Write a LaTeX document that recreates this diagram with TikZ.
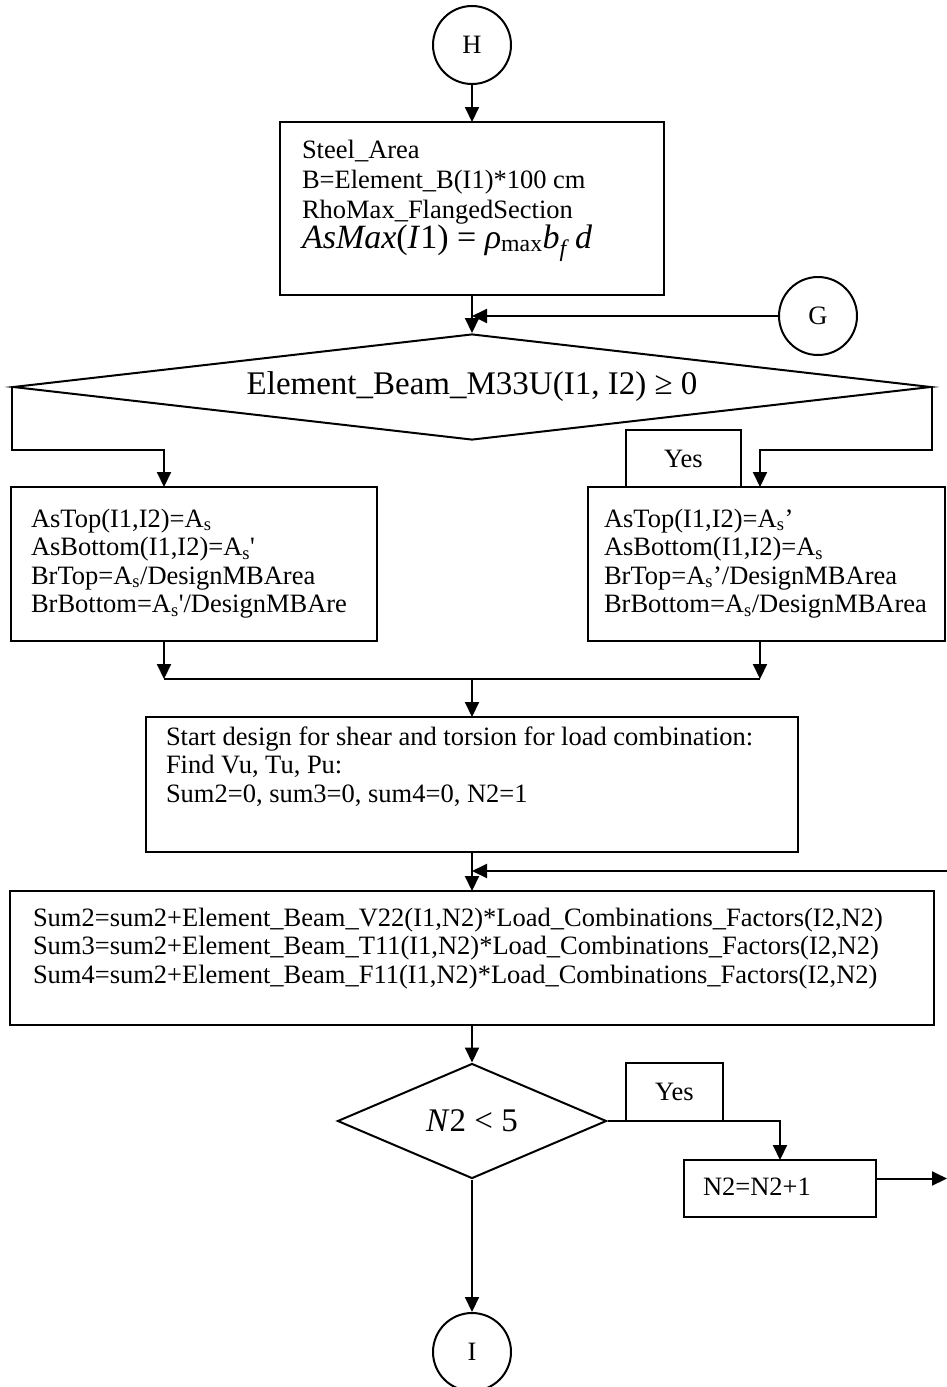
\documentclass[tikz,border=0pt]{standalone}
\usepackage{fontspec}
\setmainfont{Liberation Serif}
\usetikzlibrary{arrows.meta, shapes.geometric, positioning}

\begin{document}
\begin{tikzpicture}[
    x=1pt, y=-1pt,
    conn/.style={
        circle, draw, line width=2pt,
        minimum size=78pt, inner sep=0pt,
        font=\fontsize{26.5}{28}\selectfont
    },
    proc/.style={
        rectangle, draw, line width=2pt, anchor=north west,
        inner ysep=0pt, outer sep=0pt, align=flush left,
        font=\fontsize{26.5}{28.5}\selectfont
    },
    dec/.style={
        diamond, draw, line width=2pt, inner sep=0pt,
        font=\fontsize{33}{33}\selectfont
    },
    lbl/.style={
        rectangle, draw, line width=2pt, inner sep=0pt,
        font=\fontsize{26.5}{28}\selectfont
    },
    >={Triangle[length=15pt, width=14pt]}, line width=2pt
]
\useasboundingbox (0,0) rectangle (947,1387);

\node[conn] (H) at (472,45) {H};
\node[proc, font=\fontsize{26.5}{30}\selectfont, inner xsep=22pt, text width=340pt, text height=36pt, text depth=137pt] (area) at (280,122)
    {Steel\_Area\\ B=Element\_B(I1)*100 cm\\ RhoMax\_FlangedSection\\
     {\fontsize{34}{34}\selectfont\textit{AsMax}(\textit{I}1) = \textit{ρ}\textsubscript{max}\textit{b}\textsubscript{\textit{f}}\,\textit{d}}};
\node[conn] (G) at (818,316) {G};
\node[dec, aspect=8.66, minimum width=918pt, minimum height=106pt] (dec1) at (472,387)
    {Element\_Beam\_M33U(I1, I2) ≥ 0};
\node[lbl, minimum width=115pt, minimum height=57pt] (yes1) at (683.5,458.5) {Yes};
\node[proc, inner xsep=20pt, text width=326pt, text height=40pt, text depth=114pt] (lbox) at (11,487)
    {AsTop(I1,I2)=A\textsubscript{s}\\ AsBottom(I1,I2)=A\textsubscript{s}\textquotesingle\\
     BrTop=A\textsubscript{s}/DesignMBArea\\ BrBottom=A\textsubscript{s}\textquotesingle/DesignMBAre};
\node[proc, inner xsep=16pt, text width=325pt, text height=40pt, text depth=114pt] (rbox) at (588,487)
    {AsTop(I1,I2)=A\textsubscript{s}’\\ AsBottom(I1,I2)=A\textsubscript{s}\\
     BrTop=A\textsubscript{s}’/DesignMBArea\\ BrBottom=A\textsubscript{s}/DesignMBArea};
\node[proc, inner xsep=20pt, text width=612pt, text height=28pt, text depth=107pt] (start) at (146,717)
    {Start design for shear and torsion for load combination:\\ Find Vu, Tu, Pu:\\ Sum2=0, sum3=0, sum4=0, N2=1};
\node[proc, inner xsep=23pt, text width=878pt, text height=35pt, text depth=99pt] (sum) at (10,891)
    {Sum2=sum2+Element\_Beam\_V22(I1,N2)*Load\_Combinations\_Factors(I2,N2)\\
     Sum3=sum2+Element\_Beam\_T11(I1,N2)*Load\_Combinations\_Factors(I2,N2)\\
     Sum4=sum2+Element\_Beam\_F11(I1,N2)*Load\_Combinations\_Factors(I2,N2)};
\node[dec, aspect=2.34, minimum width=269pt, minimum height=115pt] (dec2) at (472,1121)
    {\textit{N}2 < 5};
\node[lbl, minimum width=97pt, minimum height=58pt] (yes2) at (674.5,1092) {Yes};
\node[proc, inner xsep=19pt, text width=154pt, text height=35pt, text depth=22pt] (n2) at (684,1160) {N2=N2+1};
\node[conn] (I) at (472,1352) {I};

\coordinate (gjoin)   at (472,316);
\coordinate (lturn)   at (164,450);
\coordinate (rturn)   at (760,450);
\coordinate (lmerge)  at (164,679);
\coordinate (rmerge)  at (760,679);
\coordinate (loopin)  at (947,871);
\coordinate (loopjoin) at (472,871);
\coordinate (loopout) at (947,1178.5);

\draw[->] (H) -- (area);
\draw[->] (area) -- (dec1);
\draw[->] (G) -- (gjoin);
\draw[->] (dec1.west) |- (lturn) -- (lturn |- lbox.north);
\draw[->] (dec1.east) |- (rturn) -- (rturn |- rbox.north);
\draw[->] (lturn |- lbox.south) -- (lmerge);
\draw[->] (rturn |- rbox.south) -- (rmerge);
\draw (lmerge) -- (rmerge);
\draw[->] (lmerge -| start) -- (start);
\draw[->] (start) -- (sum);
\draw[->] (loopin) -- (loopjoin);
\draw[->] (sum) -- (dec2);
\draw[->] (dec2.east) -| (n2);
\draw[->] ([yshift=10pt]n2.east) -- (loopout);
\draw[->] (dec2) -- (I);

\end{tikzpicture}
\end{document}
